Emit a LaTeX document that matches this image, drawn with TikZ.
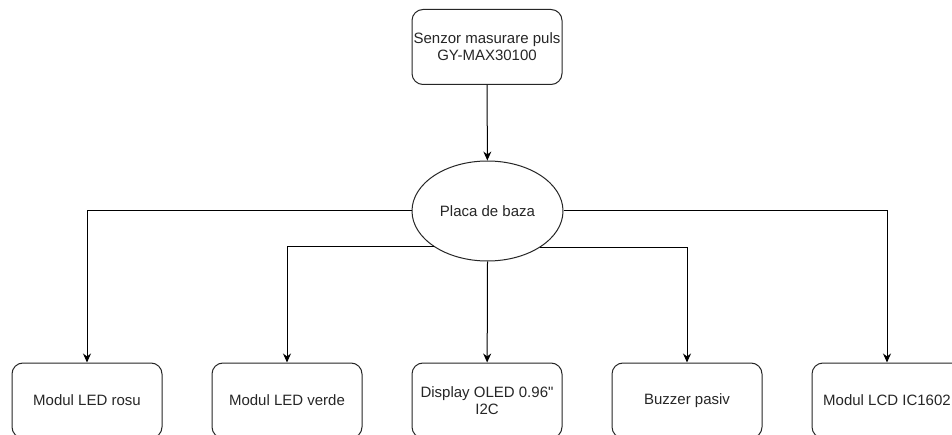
\documentclass[tikz,border=0pt]{standalone}
\usepackage{fontspec}
\setmainfont{Liberation Sans}
\font\plainquote="Liberation Sans" at 15pt
\usetikzlibrary{arrows.meta,shapes.geometric}
\begin{document}
\begin{tikzpicture}[x=1pt,y=-1pt,
  box/.style={draw=black!85, line width=1pt, rounded corners=11pt, minimum width=150pt, minimum height=75pt,
    inner sep=0pt, align=center, text=black!85, font=\fontsize{15}{17}\selectfont},
  ell/.style={draw=black!85, line width=1pt, ellipse, minimum width=151pt, minimum height=100pt,
    inner sep=0pt, align=center, text=black!85, font=\fontsize{15}{17}\selectfont},
  arr/.style={draw=black, line width=1pt, -{Stealth[length=9pt,width=8pt]}}]
\useasboundingbox (0,0) rectangle (952,435);
\fill[white] (0,0) rectangle (952,435);
\clip (0,0) rectangle (952,435);
\node[box] (top) at (487,47) {Senzor masurare puls\\GY-MAX30100};
\node[ell] (base) at (487.5,211) {Placa de baza};
\node[box] (b1) at (87,400.5) {Modul LED rosu};
\node[box] (b2) at (287,400.5) {Modul LED verde};
\node[box] (b3) at (487,400.5) {Display OLED 0.96{\plainquote\char"22}\\I2C};
\node[box] (b4) at (687,400.5) {Buzzer pasiv};
\node[box] (b5) at (887,400.5) {Modul LCD IC1602};
\draw[arr] (top) -- (base);
\draw[arr] (base.west) -| (b1);
\draw[arr] (base.east) -| (b5);
\draw[arr] (base.214.7) -| (b2);
\draw[arr] (base.325.3) -| (b4);
\draw[arr] (base.south) -- (b3);
\end{tikzpicture}
\end{document}
